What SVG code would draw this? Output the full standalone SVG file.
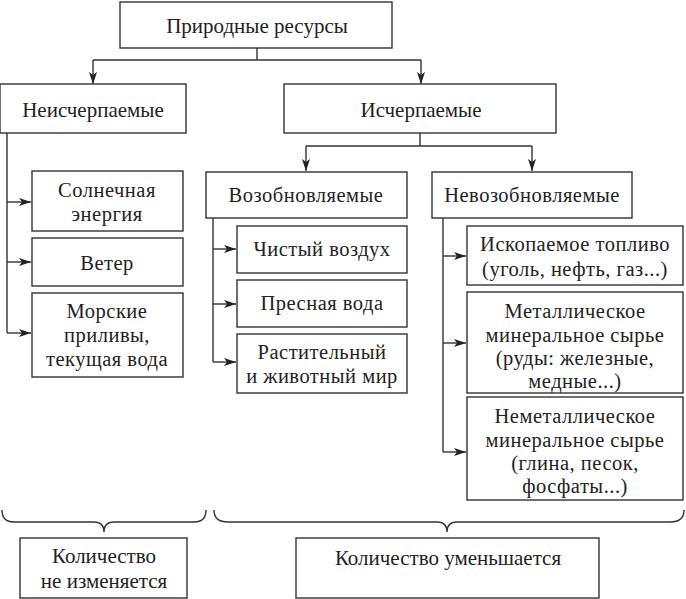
<svg xmlns="http://www.w3.org/2000/svg" width="686" height="599" viewBox="0 0 686 599">
<defs>
<marker id="ah" viewBox="0 0 12 8" refX="12" refY="4" markerWidth="12" markerHeight="8" markerUnits="userSpaceOnUse" orient="auto">
<path d="M0,0 L12,4 L0,8 L3,4 Z" fill="#222"/>
</marker>
</defs>
<style>
rect{fill:#fff;stroke:#333;stroke-width:1.4}
text{font-family:"Liberation Serif","Times New Roman",serif;font-size:20.5px;letter-spacing:0.5px;fill:#222;text-anchor:middle}
.t{font-size:21px;letter-spacing:0}
.c{fill:none;stroke:#333;stroke-width:1.4}
.a{marker-end:url(#ah)}
</style>
<rect x="0" y="0" width="686" height="599" style="fill:#fff;stroke:none"/>
<g id="connectors">
<path class="c" d="M257,48 V60 M93,60 H421"/>
<path class="c a" d="M93,60 V84"/>
<path class="c a" d="M421,60 V84"/>
<path class="c" d="M420,133 V146 M306,146 H532"/>
<path class="c a" d="M306,146 V171"/>
<path class="c a" d="M532,146 V171"/>
<path class="c" d="M7,133 V333"/>
<path class="c a" d="M7,202 H31"/>
<path class="c a" d="M7,262 H31"/>
<path class="c a" d="M7,333 H31"/>
<path class="c" d="M213,218 V362"/>
<path class="c a" d="M213,249 H236"/>
<path class="c a" d="M213,304 H236"/>
<path class="c a" d="M213,362 H236"/>
<path class="c" d="M443,218 V452"/>
<path class="c a" d="M443,256 H466"/>
<path class="c a" d="M443,343 H466"/>
<path class="c a" d="M443,452 H466"/>
<path class="c" d="M2,510 Q2,522 14,522 L94,522 Q104,522 104,532 Q104,522 114,522 L194,522 Q206,522 206,510"/>
<path class="c" d="M214,510 Q214,522 228,522 L437,522 Q447,522 447,532 Q447,522 457,522 L670,522 Q684,522 684,510"/>
</g>
<g id="n-root"><rect x="120" y="2" width="272" height="46"/><text class="t" x="257" y="33">Природные ресурсы</text></g>
<g id="n-inexh"><rect x="0" y="84" width="186" height="49"/><text class="t" x="93" y="117">Неисчерпаемые</text></g>
<g id="n-exh"><rect x="284" y="84" width="272" height="49"/><text class="t" x="421" y="117">Исчерпаемые</text></g>
<g id="n-solar"><rect x="32" y="171" width="151" height="60"/><text x="107" y="197">Солнечная</text><text x="107" y="221">энергия</text></g>
<g id="n-wind"><rect x="32" y="238" width="151" height="48"/><text x="107" y="270">Ветер</text></g>
<g id="n-sea"><rect x="32" y="293" width="151" height="84"/><text x="107" y="318">Морские</text><text x="107" y="342">приливы,</text><text x="107" y="366">текущая вода</text></g>
<g id="n-renew"><rect x="206" y="172" width="201" height="46"/><text x="306" y="202">Возобновляемые</text></g>
<g id="n-air"><rect x="237" y="226" width="170" height="47"/><text x="322" y="256">Чистый воздух</text></g>
<g id="n-water"><rect x="237" y="280" width="170" height="47"/><text x="322" y="310">Пресная вода</text></g>
<g id="n-life"><rect x="237" y="334" width="170" height="59"/><text x="322" y="359">Растительный</text><text x="322" y="383">и животный мир</text></g>
<g id="n-nonrenew"><rect x="432" y="172" width="200" height="46"/><text x="532" y="202">Невозобновляемые</text></g>
<g id="n-fuel"><rect x="467" y="226" width="216" height="59"/><text x="575" y="251">Ископаемое топливо</text><text x="575" y="276">(уголь, нефть, газ...)</text></g>
<g id="n-metal"><rect x="467" y="292" width="216" height="101"/><text x="575" y="318">Металлическое</text><text x="575" y="342">минеральное сырье</text><text x="575" y="365">(руды: железные,</text><text x="575" y="388">медные...)</text></g>
<g id="n-nonmetal"><rect x="467" y="397" width="216" height="103"/><text x="575" y="423">Неметаллическое</text><text x="575" y="447">минеральное сырье</text><text x="575" y="470">(глина, песок,</text><text x="575" y="493">фосфаты...)</text></g>
<g id="n-const"><rect x="20" y="538" width="167" height="60"/><text class="t" x="104" y="563">Количество</text><text class="t" x="104" y="588">не изменяется</text></g>
<g id="n-decr"><rect x="296" y="538" width="303" height="60"/><text class="t" x="448" y="565">Количество уменьшается</text></g>
</svg>
